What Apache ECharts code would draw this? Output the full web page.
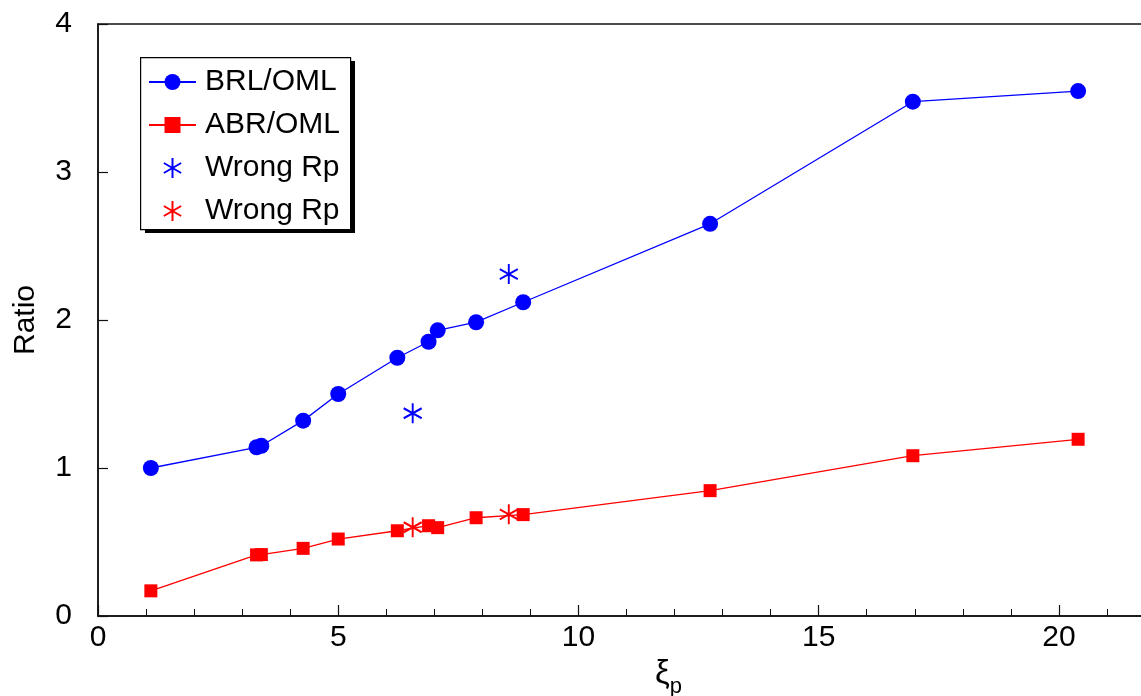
<!DOCTYPE html>
<html>
<head>
<meta charset="utf-8">
<script src="https://cdn.jsdelivr.net/npm/echarts@6/dist/echarts.min.js"></script>
<style>html,body{margin:0;padding:0;background:#fff}#c{width:1141px;height:696px}</style>
</head>
<body>
<div id="c"></div>
<script>
// Data
const xiP = [1.10, 3.30, 3.40, 4.27, 5.00, 6.23, 6.88, 7.07, 7.87, 8.85, 12.74, 16.96, 20.40];
const brlOml = [1.00, 1.14, 1.15, 1.32, 1.50, 1.745, 1.853, 1.93, 1.985, 2.12, 2.65, 3.475, 3.547];
const abrOml = [0.17, 0.413, 0.415, 0.457, 0.52, 0.576, 0.61, 0.597, 0.664, 0.685, 0.847, 1.083, 1.194];
const wrongX = [6.55, 8.55];
const wrongBrl = [1.37, 2.31];
const wrongAbr = [0.60, 0.687];
const xTicks = [0, 5, 10, 15, 20];
const yTicks = [0, 1, 2, 3, 4];

const pair = (xs, ys) => xs.map((x, i) => [x, ys[i]]);
const star = 'path://M0,-1L0,1M-0.866,-0.5L0.866,0.5M-0.866,0.5L0.866,-0.5';
const FONT = 'Liberation Sans, Arial, sans-serif';

const chart = echarts.init(document.getElementById('c'), null, {renderer: 'canvas'});
chart.setOption({
  backgroundColor: '#fff',
  animation: false,
  textStyle: {fontFamily: FONT},
  graphic: [
    {type: 'rect', left: 145, top: 61, shape: {width: 210, height: 172}, style: {fill: '#000'}, z: 0},
    {type: 'rect', left: 140, top: 57, shape: {width: 210, height: 172}, style: {fill: '#fff', stroke: '#000', lineWidth: 1.2}, z: 1}
  ],
  grid: {left: 98, top: 24, right: -14, bottom: 80, show: true, borderColor: '#111', borderWidth: 1.5,
    backgroundColor: 'transparent', outerBoundsMode: 'none', containLabel: false},
  legend: {
    orient: 'vertical', left: 140, top: 57, z: 5,
    padding: [10, 9, 3, 8], itemGap: 13, itemWidth: 47, itemHeight: 20,
    textStyle: {fontSize: 30, color: '#000', fontFamily: FONT, padding: [0, 0, 0, 4]},
    data: ['BRL/OML', 'ABR/OML', 'Wrong Rp', 'Wrong Rp ']
  },
  xAxis: {
    type: 'value', min: 0, max: 22, interval: 5,
    name: '{a|ξ}{b|p}', nameLocation: 'middle', nameGap: 22,
    nameTextStyle: {padding: [0, 0, 0, 84], rich: {
      a: {fontSize: 33, lineHeight: 32, fontFamily: FONT, color: '#000', verticalAlign: 'top'},
      b: {fontSize: 22, lineHeight: 24, fontFamily: FONT, color: '#000', padding: [18, 0, 0, 0], verticalAlign: 'top'}}},
    axisLine: {lineStyle: {color: '#111', width: 1.5}},
    axisTick: {inside: true, length: 11, lineStyle: {color: '#111', width: 1.2}},
    minorTick: {show: true, splitNumber: 5, length: 7, lineStyle: {color: '#111', width: 1}},
    axisLabel: {fontSize: 30, color: '#000', margin: 7, fontFamily: FONT,
      formatter: v => xTicks.includes(v) ? String(v) : ''},
    splitLine: {show: false}
  },
  yAxis: {
    type: 'value', min: 0, max: 4, interval: 1,
    name: 'Ratio', nameLocation: 'middle', nameGap: 57, nameRotate: 90,
    nameTextStyle: {fontSize: 30, color: '#000', fontFamily: FONT},
    axisLine: {lineStyle: {color: '#111', width: 1.5}},
    axisTick: {inside: true, length: 10, lineStyle: {color: '#111', width: 1.2}},
    axisLabel: {fontSize: 30, color: '#000', margin: 26, fontFamily: FONT,
      formatter: v => yTicks.includes(v) ? String(v) : ''},
    splitLine: {show: false}
  },
  series: [
    {name: 'BRL/OML', type: 'line', data: pair(xiP, brlOml), symbol: 'circle', symbolSize: 16,
      lineStyle: {color: '#0000ff', width: 1.3}, itemStyle: {color: '#0000ff'}, z: 3},
    {name: 'ABR/OML', type: 'line', data: pair(xiP, abrOml), symbol: 'rect', symbolSize: 13,
      lineStyle: {color: '#ff0000', width: 1.3}, itemStyle: {color: '#ff0000'}, z: 3},
    {name: 'Wrong Rp', type: 'scatter', data: pair(wrongX, wrongBrl), symbol: star, symbolSize: [18, 20],
      itemStyle: {color: '#0000ff', borderColor: '#0000ff', borderWidth: 2, opacity: 1}, z: 4},
    {name: 'Wrong Rp ', type: 'scatter', data: pair(wrongX, wrongAbr), symbol: star, symbolSize: [18, 20],
      itemStyle: {color: '#ff0000', borderColor: '#ff0000', borderWidth: 2, opacity: 1}, z: 4}
  ]
});
</script>
</body>
</html>
